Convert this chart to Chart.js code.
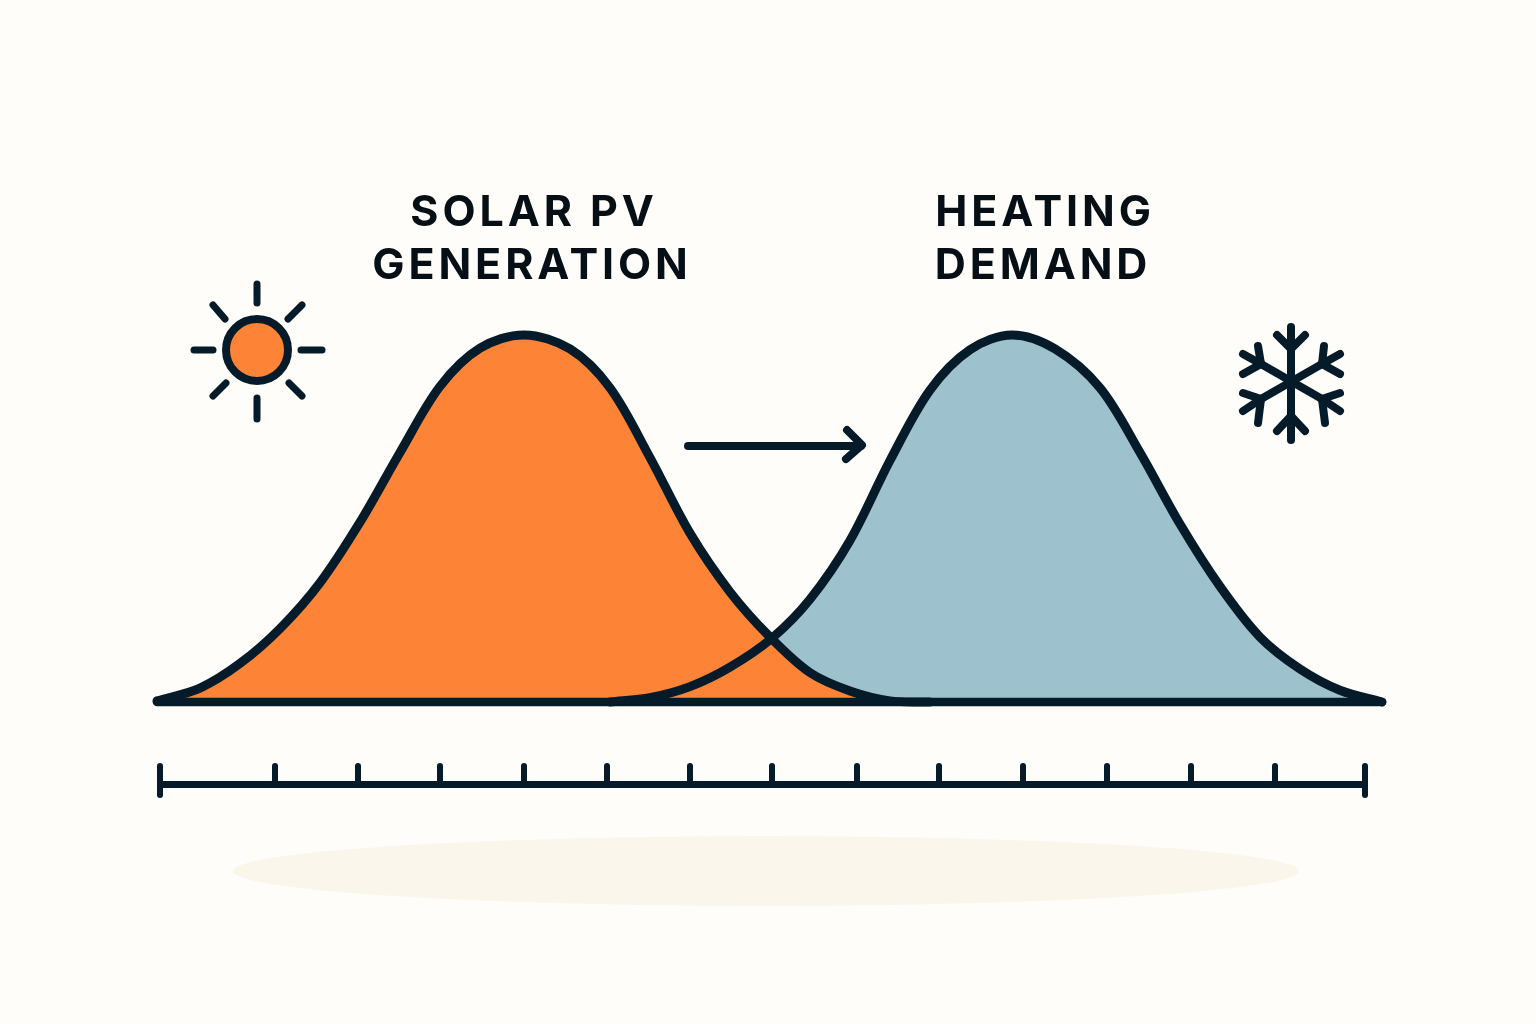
<!DOCTYPE html>
<html>
<head>
<meta charset="utf-8">
<title>Solar PV generation and heating demand</title>
<script src="https://cdn.jsdelivr.net/npm/chart.js@4"></script>
<style>
    html, body { margin: 0; padding: 0; background: #fffdf9; }
    #wrap { width: 1536px; height: 1024px; position: relative; }
</style>
</head>
<body>
<div id="wrap"><canvas id="chart"></canvas></div>
<script>
// Chart data
const solarX = [-3, 40, 80, 120, 160, 200, 240, 280, 320, 364, 410, 450, 490, 530, 570, 610, 650, 690, 730, 770];
const solarValues = [0.3, 3.8, 10.5, 20, 32.5, 49, 68, 86, 96.4, 100, 96.2, 85.6, 66.6, 46, 30, 17.7, 8, 3, 0.3, 0];
const heatingX = [450, 490, 530, 570, 612, 650, 690, 730, 770, 810, 852, 895, 940, 980, 1020, 1060, 1100, 1140, 1180, 1222];
const heatingValues = [0, 1.2, 4.2, 9.5, 17.4, 28, 44, 65.8, 85, 96, 100, 96.2, 85.6, 68, 48.5, 31.5, 17.7, 9, 3.2, 0];
const baselineX = [-3, 1222];
const baselineValues = [0, 0];
const tickValues = [0, 115, 198, 280, 364, 447, 530, 612, 697, 779, 863, 947, 1031, 1115, 1205];
const solarTitle = ['SOLAR PV', 'GENERATION'];
const heatingTitle = ['HEATING', 'DEMAND'];

const INK = '#061b29';
const ORANGE = '#fd8436';
const BLUE = '#9dc1cd';

function toPoints(xs, ys) {
    return xs.map((x, i) => ({ x: x, y: ys[i] }));
}

function strokeLine(ctx, x1, y1, x2, y2) {
    ctx.beginPath();
    ctx.moveTo(x1, y1);
    ctx.lineTo(x2, y2);
    ctx.stroke();
}

// Soft shadow under the axis
const shadowPlugin = {
    id: 'shadow',
    beforeDraw(chart) {
        const ctx = chart.ctx;
        ctx.save();
        ctx.fillStyle = '#faf6ec';
        ctx.beginPath();
        ctx.ellipse(766, 871, 533, 35, 0, 0, Math.PI * 2);
        ctx.fill();
        ctx.restore();
    }
};

// Rounded tick marks on the lower axis, taken from the x scale
const tickPlugin = {
    id: 'roundTicks',
    afterDraw(chart) {
        const ctx = chart.ctx;
        const xScale = chart.scales.x;
        const axisY = chart.scales.y.getPixelForValue(xScale.options.position.y);
        ctx.save();
        ctx.strokeStyle = INK;
        ctx.lineWidth = 6;
        ctx.lineCap = 'round';
        xScale.ticks.forEach((tick, i) => {
            const px = xScale.getPixelForValue(tick.value);
            const isEnd = i === 0 || i === xScale.ticks.length - 1;
            strokeLine(ctx, px, axisY - 19, px, isEnd ? axisY + 10 : axisY);
        });
        ctx.restore();
    }
};

// Titles, arrow, sun and snowflake
const decorPlugin = {
    id: 'decor',
    afterDraw(chart) {
        const ctx = chart.ctx;
        ctx.save();

        ctx.fillStyle = '#060f16';
        ctx.font = '700 43px Inter';
        ctx.letterSpacing = '3.9px';
        ctx.textAlign = 'center';
        ctx.textBaseline = 'alphabetic';
        ctx.fillText(solarTitle[0], 534, 226);
        ctx.fillText(solarTitle[1], 532, 279);
        ctx.fillText(heatingTitle[0], 1045, 226);
        ctx.fillText(heatingTitle[1], 1043, 279);
        ctx.letterSpacing = '0px';

        ctx.strokeStyle = INK;
        ctx.lineCap = 'round';
        ctx.lineJoin = 'round';

        // arrow
        ctx.lineWidth = 8;
        strokeLine(ctx, 688, 446, 861, 446);
        ctx.beginPath();
        ctx.moveTo(847, 430);
        ctx.lineTo(862, 445);
        ctx.lineTo(846, 459);
        ctx.stroke();

        // sun
        ctx.lineWidth = 8;
        ctx.fillStyle = ORANGE;
        ctx.beginPath();
        ctx.arc(257, 350, 31, 0, Math.PI * 2);
        ctx.fill();
        ctx.stroke();
        ctx.lineWidth = 7;
        [[257, 284, 257, 303], [257, 398, 257, 419], [194, 350, 213, 350], [301, 350, 322, 350],
         [213, 305, 225, 319], [302, 305, 288, 319], [213, 396, 226, 383], [302, 396, 289, 383]]
            .forEach(r => strokeLine(ctx, r[0], r[1], r[2], r[3]));

        // snowflake
        ctx.lineWidth = 8;
        [[1291, 327, 1291, 440], [1261, 364, 1322, 399], [1322, 364, 1261, 399],
         [1277, 335, 1291, 349], [1305, 335, 1291, 349], [1277, 431, 1291, 416], [1305, 431, 1291, 416],
         [1322, 364, 1340, 354], [1322, 364, 1324, 346], [1322, 364, 1340, 374],
         [1261, 364, 1243, 354], [1261, 364, 1258, 346], [1261, 364, 1243, 374],
         [1322, 399, 1340, 393], [1322, 399, 1340, 411], [1322, 399, 1325, 423],
         [1261, 399, 1243, 393], [1261, 399, 1243, 411], [1261, 399, 1258, 423]]
            .forEach(r => strokeLine(ctx, r[0], r[1], r[2], r[3]));

        ctx.restore();
    }
};

const curveDefaults = {
    borderColor: INK,
    borderWidth: 9,
    borderCapStyle: 'round',
    borderJoinStyle: 'round',
    tension: 0.33,
    pointRadius: 0,
    clip: false
};

new Chart(document.getElementById('chart'), {
    type: 'line',
    data: {
        datasets: [
            { label: 'Solar PV generation', data: toPoints(solarX, solarValues), backgroundColor: ORANGE, fill: { value: 0 }, ...curveDefaults },
            { label: 'Heating demand', data: toPoints(heatingX, heatingValues), backgroundColor: BLUE, fill: { value: 0 }, ...curveDefaults },
            { label: 'Baseline', data: toPoints(baselineX, baselineValues), fill: false, ...curveDefaults, borderWidth: 8.5 }
        ]
    },
    options: {
        responsive: true,
        maintainAspectRatio: false,
        animation: false,
        layout: { padding: { left: 160, right: 171, top: 0, bottom: 0 } },
        plugins: {
            legend: { display: false },
            tooltip: { enabled: false },
            filler: { drawTime: 'beforeDatasetsDraw' }
        },
        scales: {
            x: {
                type: 'linear',
                min: 0,
                max: 1205,
                position: { y: -22.6 },
                afterBuildTicks: axis => { axis.ticks = tickValues.map(v => ({ value: v })); },
                ticks: { display: false },
                grid: { drawOnChartArea: false, drawTicks: false },
                border: { display: true, color: INK, width: 7 }
            },
            y: {
                display: false,
                min: -87.74,
                max: 191.28
            }
        }
    },
    plugins: [shadowPlugin, tickPlugin, decorPlugin]
});
</script>
</body>
</html>
